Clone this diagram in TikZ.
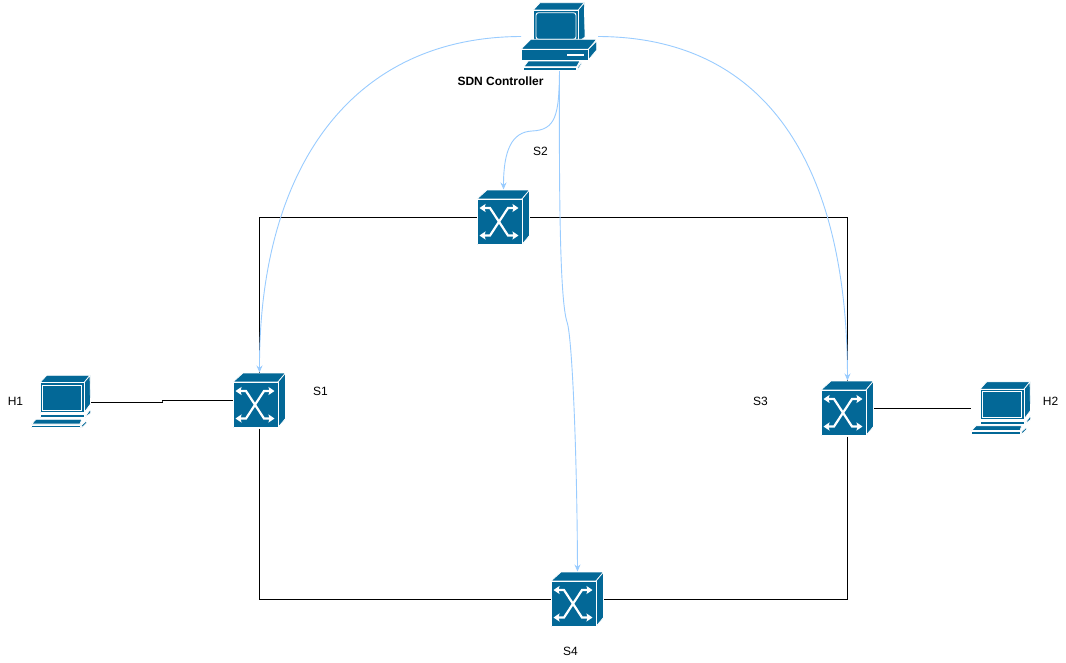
\documentclass[tikz,border=0pt]{standalone}
\usepackage{fontspec}
\setmainfont{Liberation Sans}
\usetikzlibrary{arrows.meta}
\definecolor{icon}{HTML}{036897}
\definecolor{ctl}{HTML}{99CCFF}
\tikzset{
  link/.style={draw=black,line width=0.9pt},
  ctrlink/.style={draw=ctl,line width=0.9pt,-{Stealth[length=7pt,width=6pt]}},
  lab/.style={font=\fontsize{12}{14}\selectfont,inner sep=0pt},
  swbox/.style={minimum width=53pt,minimum height=56pt,inner sep=0pt,outer sep=0pt},
  pcbox/.style={minimum width=60pt,minimum height=54pt,inner sep=0pt,outer sep=0pt},
  srvbox/.style={minimum width=77pt,minimum height=69pt,inner sep=0pt,outer sep=0pt},
  face/.style={fill=icon,draw=white,line width=0.7pt,line join=round},
  xline/.style={draw=white,line width=2.2pt,{Stealth[length=6pt,width=8pt,inset=1pt]}-{Stealth[length=6pt,width=8pt,inset=1pt]}},
  switchicon/.pic={
    \path[face] (0,9.5)--(10,0.5)--(52.5,0.5)--(45,9.5)--cycle;
    \path[face] (45,9.5)--(52.5,0.5)--(52.5,46)--(45,55)--cycle;
    \path[face] (0,9.5) rectangle (45,55);
    \draw[xline] (2.5,18.5)--(13,18.5)--(31,46)--(41.5,46);
    \draw[xline] (41.5,18.5)--(31,18.5)--(13,46)--(2.5,46);
  },
  pcicon/.pic={
    \path[face] (9,7.7)--(15.7,0.3)--(59,0.3)--(53,7.7)--cycle;
    \path[face] (53,7.7)--(59,0.3)--(59.5,29)--(53,37.7)--cycle;
    \path[face] (9,7.7) rectangle (53,37.7);
    \draw[white,line width=0.9pt] (11.7,10) rectangle (50.7,35.7);
    \path[face] (9,39.8) rectangle (53,42.5);
    \path[face] (54,41.7)--(59.7,34)--(59.7,38)--(54,42.5)--cycle;
    \path[face] (5,44.3)--(50.7,44.3)--(49,49)--(0.7,49)--cycle;
    \path[face] (0,50) rectangle (49.7,52.7);
    \path[face] (50.7,50)--(55.7,45.7)--(55.7,47.8)--(51,52.7)--cycle;
  },
  servericon/.pic={
    \path[face] (12.3,8)--(19,0.7)--(63.3,0.7)--(57.3,8)--cycle;
    \path[face] (57.3,8)--(63.3,0.7)--(64,35)--(57.3,40)--cycle;
    \path[face] (12.3,8) rectangle (57.3,39.7);
    \draw[white,line width=0.9pt,rounded corners=2.5pt] (15,10.7) rectangle (55,37.3);
    \path[face] (0,47.3)--(9.7,37.3)--(75.7,37.3)--(67.3,47.3)--cycle;
    \path[face] (67.3,47.3)--(75.7,39)--(75.7,48)--(67.3,58)--cycle;
    \path[face] (0,47.3) rectangle (67.3,58);
    \fill[white] (45.7,52.3) rectangle (63,54);
    \path[face] (7.3,59)--(59,59)--(55.7,64.7)--(3,64.7)--cycle;
    \path[face] (2.3,65.7) rectangle (55,68.3);
    \path[face] (56.5,65.5)--(60,60.5)--(60.5,62)--(56.5,68)--cycle;
  }
}
\begin{document}
\begin{tikzpicture}[x=1pt,y=-1pt]
\path[use as bounding box,fill=white] (0,0) rectangle (1066,662);
\node[srvbox] (ctrl) at (559.5,36.5) {};
\node[swbox] (s1) at (259.5,400.5) {};
\node[swbox] (s2) at (503.5,217.5) {};
\node[swbox] (s3) at (847.5,408.5) {};
\node[swbox] (s4) at (577.5,599.5) {};
\node[pcbox] (h1) at (61,402) {};
\node[pcbox] (h2) at (1001,408.5) {};
\coordinate (c12) at (s1.north |- s2.west);
\coordinate (c23) at (s3.north |- s2.east);
\coordinate (c14) at (s1.south |- s4.west);
\coordinate (c34) at (s3.south |- s4.east);
\coordinate (ch) at (162,401.5);
\draw[link] (s2.west) -- (c12) -- (s1.north);
\draw[link] (s2.east) -- (c23) -- (s3.north);
\draw[link] (s1.south) -- (c14) -- (s4.west);
\draw[link] (s3.south) -- (c34) -- (s4.east);
\draw[link] (h1.east) -| (ch) |- (s1.west);
\draw[link] (s3.east) -- (h2.west);
\pic at (ctrl.north west) {servericon};
\pic at (s1.north west) {switchicon};
\pic at (s2.north west) {switchicon};
\pic at (s3.north west) {switchicon};
\pic at (s4.north west) {switchicon};
\pic at (h1.north west) {pcicon};
\pic at (h2.north west) {pcicon};
\draw[ctrlink] (ctrl.west) .. controls (350,37) and (259,170) .. (s1.north);
\draw[ctrlink] (ctrl.east) .. controls (770,37) and (847,170) .. (s3.north);
\draw[ctrlink] (ctrl.south) .. controls (559,115) and (556,130) .. (532,131) .. controls (512,132) and (503.5,150) .. (s2.north);
\draw[ctrlink] (ctrl.south) .. controls (559,200) and (560,300) .. (567,322) .. controls (572,335) and (577,450) .. (s4.north);
\node[lab,font=\fontsize{12}{14}\selectfont\bfseries] (tc) at (500.5,81) {SDN Controller};
\node[lab] (t1) at (15.5,401) {H1};
\node[lab] (t2) at (540.5,151) {S2};
\node[lab] (t3) at (320.5,391) {S1};
\node[lab] (t4) at (760.5,401) {S3};
\node[lab] (t5) at (1050.5,401) {H2};
\node[lab] (t6) at (570.5,651) {S4};
\end{tikzpicture}
\end{document}
